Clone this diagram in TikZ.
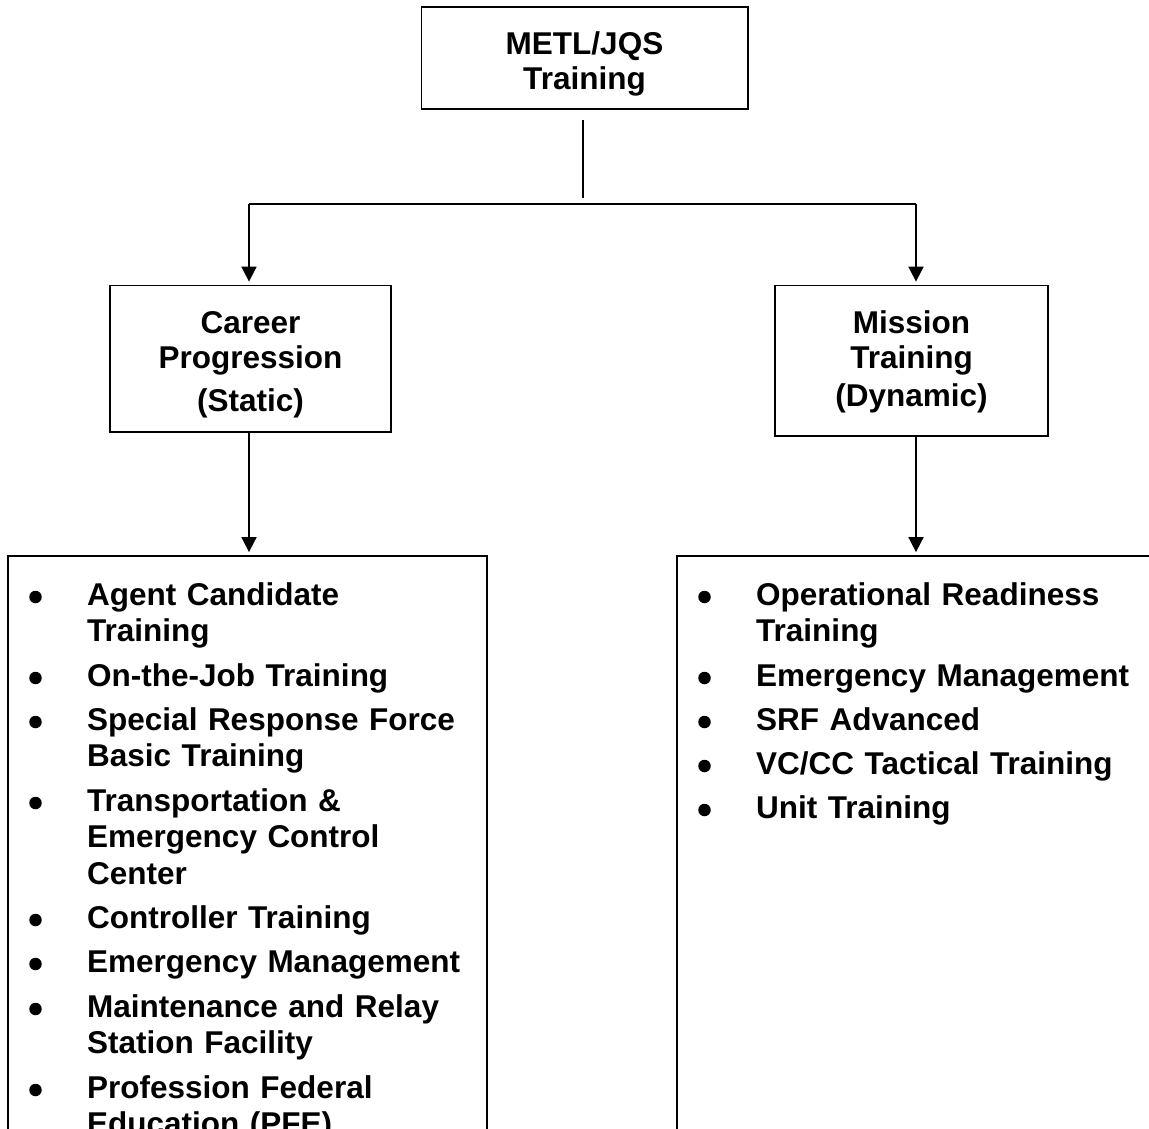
\documentclass[tikz,border=0pt]{standalone}
\usepackage{fontspec}
\setmainfont{Liberation Sans}
\usetikzlibrary{arrows.meta,fit}
\begin{document}
\begin{tikzpicture}[x=1pt,y=-1pt,
  txt/.style={font=\fontsize{31.5}{36.5}\selectfont\bfseries},
  box/.style={draw, line width=1.8pt, inner sep=0pt},
  title/.style={txt, inner sep=0pt, align=center, text width=300pt, anchor=base},
  item/.style={txt, inner sep=0pt, align=left, text width=400pt, anchor=base west},
  dot/.style={circle, fill, inner sep=0pt, minimum size=12.5pt},
  link/.style={line width=1.8pt},
  arr/.style={link, -{Triangle[width=15pt,length=15pt]}, shorten >=3pt}]
\useasboundingbox (0,0) rectangle (1149,1129);
\clip (0,0) rectangle (1149,1129);

% boxes
\node[box, fit={(421.5,7) (748,109)}] (top) {};
\node[box, fit={(110,285.5) (391,432)}] (career) {};
\node[box, fit={(775,285.5) (1048,436)}] (mission) {};
\node[box, fit={(8,556) (487,1160)}] (left) {};
\node[box, fit={(677,556) (1170,1160)}] (right) {};

% box titles
\node[title] (toptxt) at (584.5,55) {METL/JQS\\[-1.5pt]Training};
\node[title] (careertxt) at (250.5,333) {Career\\[-1pt]Progression\\[6pt](Static)};
\node[title] (missiontxt) at (911.5,333) {Mission\\[-1pt]Training\\[1pt](Dynamic)};

% connectors
\coordinate (stemtop) at (583,120);
\coordinate (stembot) at (583,198);
\coordinate (bl) at (249,204);
\coordinate (br) at (916,204);
\draw[link] (stemtop) -- (stembot);
\draw[link] (bl) -- (br);
\draw[arr] (bl) -- (bl |- career.north);
\draw[arr] (br) -- (br |- mission.north);
\draw[arr] (career.south -| bl) -- (left.north -| bl);
\draw[arr] (mission.south -| br) -- (right.north -| br);

% left list
\foreach \y/\t [count=\i] in {
  605/{Agent Candidate\\Training},
  686/{On-the-Job Training},
  730/{Special Response Force\\Basic Training},
  811/{Transportation \&\\Emergency Control\\Center},
  928/{Controller Training},
  972/{Emergency Management},
  1017/{Maintenance and Relay\\Station Facility},
  1098/{Profession Federal\\Education (PFE)}}{
  \node[dot] (ldot\i) at (35.5,\y-8) {};
  \node[item] (litem\i) at (87,\y) {\t};
}

% right list
\foreach \y/\t [count=\i] in {
  605/{Operational Readiness\\Training},
  686/{Emergency Management},
  730/{SRF Advanced},
  774/{VC/CC Tactical Training},
  818/{Unit Training}}{
  \node[dot] (rdot\i) at (704.5,\y-8) {};
  \node[item] (ritem\i) at (756,\y) {\t};
}
\end{tikzpicture}
\end{document}
